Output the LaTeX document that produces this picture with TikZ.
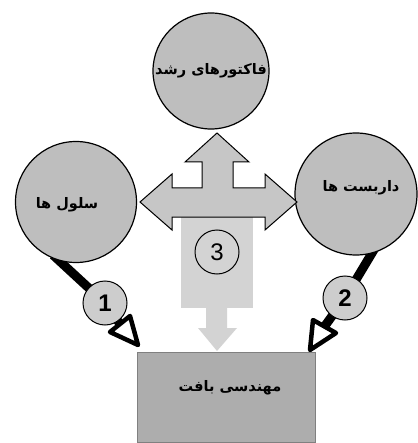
\documentclass[tikz,border=0pt]{standalone}
\usepackage{fontspec}
\newfontfamily\arabicfont[Script=Arabic]{DejaVu Sans}
\newfontfamily\numfont{Liberation Sans}
\TeXXeTstate=1
\definecolor{circfill}{HTML}{BEBEBE}
\definecolor{boxfill}{HTML}{ADADAD}
\definecolor{arrfill}{HTML}{C6C6C6}
\definecolor{lightfill}{HTML}{D3D3D3}
\definecolor{numfill}{HTML}{CDCDCD}
\begin{document}
\begin{tikzpicture}[x=1pt,y=-1pt,
  persian/.style={font=\arabicfont\bfseries\fontsize{14.5}{16}\selectfont},
  bigc/.style={circle, draw=black, line width=1.2pt, fill=circfill, inner sep=0pt, persian},
  numc/.style={circle, draw=black, line width=1pt, fill=numfill, minimum size=44pt, inner sep=0pt,
    font=\numfont\bfseries\fontsize{24}{26}\selectfont},
  link/.style={line width=9pt, draw=black},
  openhead/.style={draw=black, line width=4.5pt, line join=round, fill=white},
  bigarrow/.style={draw=black, line width=1pt, fill=arrfill, line join=miter},
  lightshape/.style={fill=lightfill, draw=none}]
\useasboundingbox (0,0) rectangle (417,443);

% light rectangle and down arrow under the three-way arrow
\fill[lightshape] (181,217) rectangle (253,308);
\fill[lightshape] (206,307) -- (227,307) -- (227,328) -- (237,328) -- (217,351) -- (198,328) -- (206,328) -- cycle;

% bottom box
\node[draw=gray, line width=0.6pt, fill=boxfill, minimum width=178pt, minimum height=90pt, inner sep=0pt] (box) at (226,397) {};
\node[persian] (boxtxt) at (230,388) {\beginR مهندسی بافت\endR};

% connector lines
\coordinate (a1) at (53,255);
\coordinate (a2) at (375,248);
\coordinate (h1) at (120,324);
\coordinate (h2) at (324.5,326.5);
\draw[link] (a1) -- (105,303) -- (h1);
\draw[link] (a2) -- (345,298) -- (h2);

% big circles
\node[bigc, minimum size=116pt] (top) at (211,71) {\beginR فاکتورهای رشد\endR};
\node[bigc, minimum size=121pt] (left) at (76,202) {};
\node[persian] (lefttxt) at (67,205) {\beginR سلول ها\endR};
\node[bigc, minimum size=122pt] (right) at (356,194) {};
\node[persian] (righttxt) at (361,188) {\beginR داربست ها\endR};

% three-way arrow
\draw[bigarrow] (140,202) -- (172,174) -- (172,188) -- (202,188) -- (202,162) -- (185,162)
  -- (217,133) -- (249,162) -- (233,162) -- (233,188) -- (265,188) -- (265,174) -- (297,202)
  -- (265,230) -- (265,217) -- (172,217) -- (172,230) -- cycle;

% number circles
\node[numc] (n1) at (105,303) {1};
\node[numc] (n2) at (345,298) {2};
\node[numc, fill=lightfill, font=\numfont\fontsize{24}{26}\selectfont] (n3) at (217,252) {3};

% open arrow heads
\draw[openhead] (138,345) -- (130,316) -- (110,332) -- cycle;
\draw[openhead] (310,350) -- (313,320) -- (336,333) -- cycle;
\end{tikzpicture}
\end{document}
